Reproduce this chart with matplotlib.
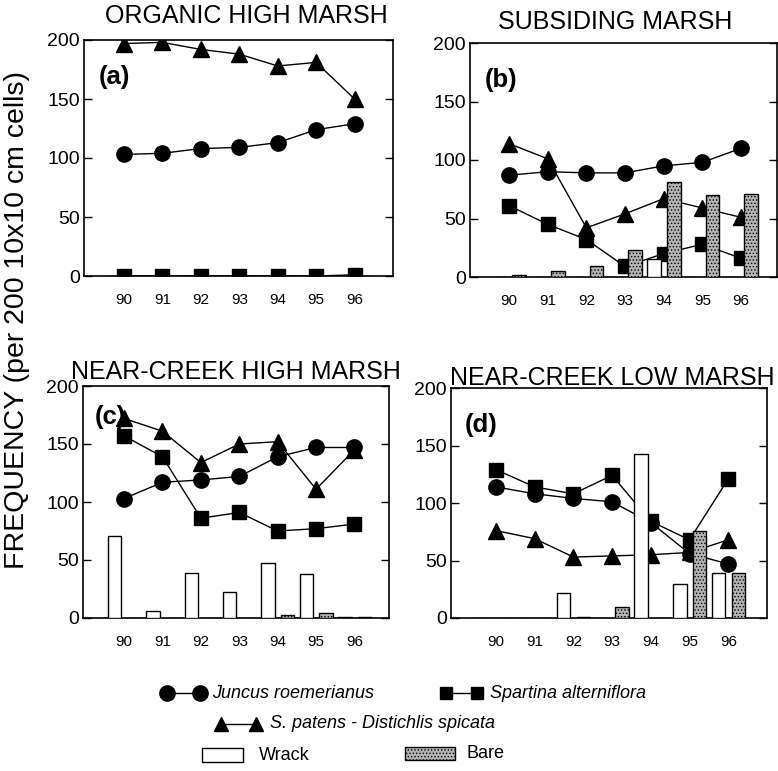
import matplotlib
matplotlib.use("Agg")
import matplotlib.pyplot as plt
from matplotlib.lines import Line2D
from matplotlib.patches import Rectangle
import numpy as np

plt.rcParams['font.family'] = ['Liberation Sans', 'DejaVu Sans']
plt.rcParams['hatch.color'] = '#444444'
plt.rcParams['hatch.linewidth'] = 0.6

years = [90, 91, 92, 93, 94, 95, 96]
year_labels = ["90", "91", "92", "93", "94", "95", "96"]

titles = ["ORGANIC HIGH MARSH", "SUBSIDING MARSH", "NEAR-CREEK HIGH MARSH", "NEAR-CREEK LOW MARSH"]
panel_tags = ["(a)", "(b)", "(c)", "(d)"]

# (a) organic high marsh
juncus_a = [103, 104, 108, 109, 113, 124, 129]
spartina_a = [0, 0, 0, 0, 0, 0, 1]
patens_a = [197, 198, 192, 188, 178, 181, 150]
wrack_a = [0, 0, 0, 0, 0, 0, 0]
bare_a = [0, 0, 0, 0, 0, 0, 0]

# (b) subsiding marsh
juncus_b = [87, 90, 89, 89, 95, 98, 110]
spartina_b = [61, 45, 32, 9, 20, 28, 16]
patens_b = [114, 101, 42, 54, 67, 59, 51]
wrack_b = [0, 0, 0, 0, 15, 0, 0]
bare_b = [2, 5, 9, 23, 81, 70, 71]

# (c) near-creek high marsh
juncus_c = [103, 117, 119, 122, 139, 147, 147]
spartina_c = [157, 139, 86, 91, 75, 77, 81]
patens_c = [172, 161, 134, 150, 152, 111, 145]
wrack_c = [71, 6, 39, 22, 47, 38, 1]
bare_c = [0, 0, 0, 0, 3, 4, 1]

# (d) near-creek low marsh
juncus_d = [114, 108, 104, 101, 83, 56, 47]
spartina_d = [129, 114, 108, 124, 84, 68, 121]
patens_d = [76, 69, 53, 54, 55, 57, 68]
wrack_d = [0, 0, 22, 0, 143, 30, 39]
bare_d = [0, 0, 1, 10, 0, 76, 39]

panels = [
    (juncus_a, spartina_a, patens_a, wrack_a, bare_a),
    (juncus_b, spartina_b, patens_b, wrack_b, bare_b),
    (juncus_c, spartina_c, patens_c, wrack_c, bare_c),
    (juncus_d, spartina_d, patens_d, wrack_d, bare_d),
]

W, H = 778, 771
fig = plt.figure(figsize=(W / 100, H / 100), dpi=100)

# axes boxes in pixels: left, right, top, bottom
boxes = [(84, 393, 40, 276), (470, 777, 43, 277), (83, 389, 386, 618), (451, 767, 388, 618)]
xlims = [(88.96, 97.0), (88.99, 96.93), (88.93, 96.9), (88.84, 97.0)]
title_pos = [(246, 16), (615, 22), (236, 372), (612, 378)]
tag_pos = [(99, 77), (485, 80), (95, 417), (465, 425)]
bare_color = '#b4b4b4'

for i, (box, data) in enumerate(zip(boxes, panels)):
    l, r, t, b = box
    ax = fig.add_axes([l / W, 1 - b / H, (r - l) / W, (b - t) / H])
    jun, spa, pat, wra, bar = data
    yr = np.array(years, dtype=float)
    ax.plot(yr, jun, '-', color='black', lw=1.0, marker='o', ms=11, zorder=2)
    ax.plot(yr, spa, '-', color='black', lw=1.0, marker='s', ms=10, zorder=2)
    ax.plot(yr, pat, '-', color='black', lw=1.0, marker='^', ms=11, zorder=2)
    ax.bar(yr - 0.25, wra, width=0.35, facecolor='white', edgecolor='black', lw=1.0, zorder=3)
    ax.bar(yr + 0.26, bar, width=0.35, facecolor=bare_color, edgecolor='black', lw=1.0,
           hatch='.....', zorder=3)
    ax.set_xlim(*xlims[i])
    ax.set_ylim(0, 200)
    ax.set_yticks([0, 50, 100, 150, 200])
    ax.set_xticks(years)
    ax.set_xticklabels(year_labels, fontsize=11)
    ax.tick_params(axis='x', length=0, pad=12)
    ax.tick_params(axis='y', direction='in', length=6, width=1, labelsize=14, pad=3,
                   right=True, left=True)
    for s in ax.spines.values():
        s.set_linewidth(1.2)
    fig.text(tag_pos[i][0] / W, 1 - tag_pos[i][1] / H, panel_tags[i], fontsize=18.5,
             fontweight='bold', va='center', ha='left')
    fig.text(title_pos[i][0] / W, 1 - title_pos[i][1] / H, titles[i], fontsize=18,
             ha='center', va='center')

fig.text(17 / W, 1 - 320 / H, "FREQUENCY (per 200 10x10 cm cells)", rotation=90,
         fontsize=20.5, ha='center', va='center')

# legend (drawn in figure pixel coordinates)
def px(x, y):
    return x / W, 1 - y / H

def leg_line(x0, x1, y, marker, ms):
    (a0, b0), (a1, b1) = px(x0, y), px(x1, y)
    fig.add_artist(Line2D([a0, a1], [b0, b0], color='black', lw=1.0, marker=marker,
                          ms=ms, transform=fig.transFigure))

leg_line(167, 200, 693, 'o', 11)
fig.text(*px(212, 693), "Juncus roemerianus", fontsize=13, style='italic', va='center')
leg_line(446, 477, 693, 's', 9)
fig.text(*px(490, 693), "Spartina alterniflora", fontsize=13, style='italic', va='center')
leg_line(221, 256, 724, '^', 10)
fig.text(*px(270, 724), "S. patens - Distichlis spicata", fontsize=13, style='italic',
         va='center')
x0, y0 = px(202, 762)
x1, y1 = px(243, 748)
fig.add_artist(Rectangle((x0, y0), x1 - x0, y1 - y0, facecolor='white', edgecolor='black',
                         lw=1.0, transform=fig.transFigure))
fig.text(*px(259, 755), "Wrack", fontsize=13, va='center')
x0, y0 = px(405, 760)
x1, y1 = px(455, 747)
fig.add_artist(Rectangle((x0, y0), x1 - x0, y1 - y0, facecolor=bare_color, edgecolor='black',
                         lw=1.0, hatch='.....', transform=fig.transFigure))
fig.text(*px(466, 753), "Bare", fontsize=13, va='center')

fig.savefig("out.png", dpi=100)
